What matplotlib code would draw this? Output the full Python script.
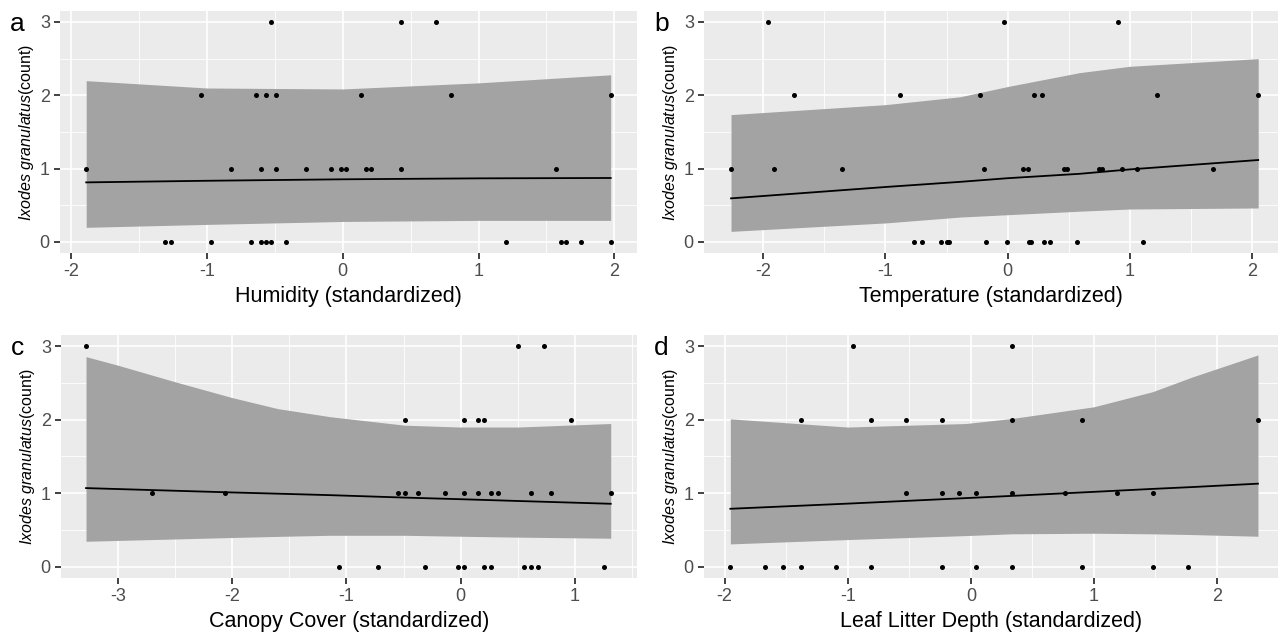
import numpy as np
import matplotlib
matplotlib.use('Agg')
import matplotlib.pyplot as plt
from matplotlib.ticker import MultipleLocator

plt.rcParams['font.family'] = ['Liberation Sans', 'DejaVu Sans']
plt.rcParams['mathtext.fontset'] = 'custom'
plt.rcParams['mathtext.it'] = 'Liberation Sans:italic'
plt.rcParams['mathtext.rm'] = 'Liberation Sans'
plt.rcParams['axes.unicode_minus'] = False

hum_x = [-1.89, -0.824, -0.603, -0.492, -0.271, -0.087, -0.013, 0.024, 0.168, 0.205, 0.426, 1.568,
         -1.047, -0.64, -0.566, -0.492, 0.131, 0.794, 1.973,
         -0.529, 0.426, 0.684,
         -1.308, -1.266, -0.971, -0.676, -0.603, -0.566, -0.529, -0.418, 1.2, 1.604, 1.641, 1.752, 1.973]
hum_y = [1]*12 + [2]*7 + [3]*3 + [0]*13

temp_x = [-0.767, -0.699, -0.548, -0.494, -0.48, -0.175, -0.006, 0.172, 0.19, 0.297, 0.346, 0.565, 1.105,
          -2.264, -1.912, -1.356, -0.194, 0.123, 0.164, 0.458, 0.483, 0.75, 0.769, 0.938, 1.056, 1.678,
          -1.746, -0.884, -0.224, 0.213, 0.281, 1.224, 2.05,
          -1.964, -0.028, 0.905]
temp_y = [0]*13 + [1]*13 + [2]*7 + [3]*3

canopy_x = [-1.068, -0.721, -0.315, -0.026, 0.032, 0.207, 0.266, 0.558, 0.616, 0.674, 1.252,
            -2.697, -2.058, -0.548, -0.487, -0.373, -0.14, 0.032, 0.149, 0.266, 0.324, 0.616, 0.791, 1.313,
            -0.487, 0.032, 0.149, 0.207, 0.967,
            -3.278, 0.5, 0.733]
canopy_y = [0]*11 + [1]*13 + [2]*5 + [3]*3

leaf_x = [-1.954, -1.669, -1.526, -1.382, -1.095, -0.81, -0.238, 0.046, 0.333, 0.905, 1.477, 1.762,
          -0.526, -0.238, -0.098, 0.046, 0.333, 0.764, 1.19, 1.477,
          -1.382, -0.81, -0.526, -0.238, 0.333, 0.905, 2.333,
          -0.954, 0.333]
leaf_y = [0]*12 + [1]*8 + [2]*7 + [3]*2

# fitted curve and confidence band
hum_grid = [-1.89, -1.0, 0.0, 1.0, 1.973]
hum_fit = [0.813, 0.835, 0.855, 0.868, 0.873]
hum_hi = [2.20, 2.10, 2.087, 2.17, 2.28]
hum_lo = [0.20, 0.24, 0.28, 0.295, 0.295]

temp_grid = [-2.264, -1.0, -0.39, 0.0, 0.59, 1.0, 2.05]
temp_fit = [0.595, 0.75, 0.82, 0.87, 0.93, 0.99, 1.118]
temp_hi = [1.737, 1.873, 1.98, 2.12, 2.31, 2.396, 2.50]
temp_lo = [0.145, 0.26, 0.34, 0.372, 0.42, 0.45, 0.464]

canopy_grid = [-3.278, -3.0, -2.5, -2.0, -1.6, -1.14, -0.49, 0.0, 0.5, 1.313]
canopy_fit = [1.071, 1.058, 1.035, 1.012, 0.995, 0.975, 0.942, 0.92, 0.896, 0.858]
canopy_hi = [2.856, 2.74, 2.515, 2.30, 2.15, 2.04, 1.925, 1.90, 1.90, 1.948]
canopy_lo = [0.349, 0.36, 0.38, 0.40, 0.415, 0.43, 0.43, 0.417, 0.405, 0.39]

leaf_grid = [-1.954, -1.0, -0.04, 0.333, 1.0, 1.477, 1.8, 2.333]
leaf_fit = [0.79, 0.86, 0.935, 0.965, 1.02, 1.06, 1.085, 1.131]
leaf_hi = [2.011, 1.90, 1.948, 2.016, 2.175, 2.38, 2.58, 2.879]
leaf_lo = [0.313, 0.372, 0.426, 0.45, 0.458, 0.45, 0.44, 0.417]

W, H = 1278, 635
fig = plt.figure(figsize=(W/100, H/100), dpi=100)

def make_panel(rect, letter, xs, ys, grid, fit, lo, hi, xlabel, xlim, xmaj):
    l, t, r, b = rect
    ax = fig.add_axes([l/W, 1-b/H, (r-l)/W, (b-t)/H])
    ax.set_facecolor('#EBEBEB')
    for s in ax.spines.values():
        s.set_visible(False)
    ax.xaxis.set_major_locator(MultipleLocator(xmaj))
    ax.xaxis.set_minor_locator(MultipleLocator(xmaj/2))
    ax.yaxis.set_major_locator(MultipleLocator(1))
    ax.yaxis.set_minor_locator(MultipleLocator(0.5))
    ax.grid(which='major', color='white', lw=1.2)
    ax.grid(which='minor', color='white', lw=0.6)
    ax.set_axisbelow(True)
    ax.tick_params(which='major', length=4.3, width=1.3, color='#333333',
                   labelcolor='#4D4D4D', labelsize=13, pad=3)
    ax.tick_params(which='minor', length=0)
    ax.fill_between(grid, lo, hi, color='#A3A3A3', lw=0, zorder=2)
    ax.plot(grid, fit, color='black', lw=1.3, zorder=3)
    ax.scatter(xs, ys, s=13, color='black', zorder=4, lw=0)
    ax.set_xlim(xlim)
    ax.set_ylim(-0.15, 3.15)
    ax.set_xlabel(xlabel, fontsize=15.5, labelpad=4)
    ax.set_ylabel(r'$\it{Ixodes\ granulatus}$(count)', fontsize=11.5, labelpad=3)
    fig.text((l-50)/W, 1-(t+13)/H, letter, fontsize=19, ha='left', va='center')
    return ax

make_panel((60, 11, 637, 253), 'a', hum_x, hum_y, hum_grid, hum_fit, hum_lo, hum_hi,
           'Humidity (standardized)', (-2.083, 2.167), 1)
make_panel((704, 11, 1278, 253), 'b', temp_x, temp_y, temp_grid, temp_fit, temp_lo, temp_hi,
           'Temperature (standardized)', (-2.485, 2.212), 1)
make_panel((61, 335, 637, 578), 'c', canopy_x, canopy_y, canopy_grid, canopy_fit, canopy_lo, canopy_hi,
           'Canopy Cover (standardized)', (-3.497, 1.543), 1)
make_panel((704, 335, 1278, 578), 'd', leaf_x, leaf_y, leaf_grid, leaf_fit, leaf_lo, leaf_hi,
           'Leaf Litter Depth (standardized)', (-2.168, 2.496), 1)

plt.savefig('out.png', dpi=100)
